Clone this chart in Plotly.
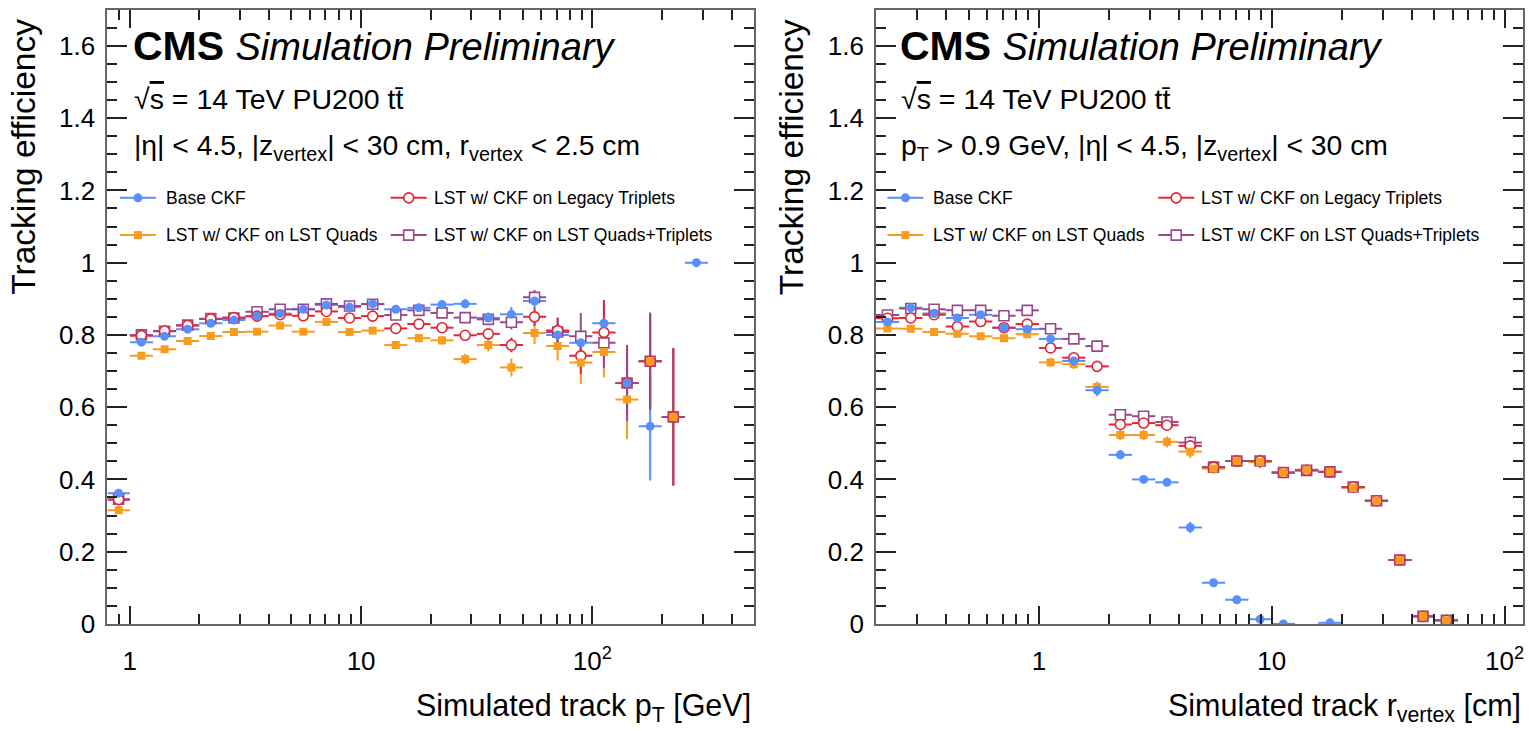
import math
import plotly.graph_objects as go

W, H = 1529, 731

# ---------------- data ----------------
# left panel: efficiency vs simulated track pT [GeV]
pt_edges = [0.8, 1.0, 1.259, 1.585, 1.995, 2.512, 3.162, 3.981, 5.012, 6.310, 7.943,
            10.0, 12.59, 15.85, 19.95, 25.12, 31.62, 39.81, 50.12, 63.10, 79.43,
            100.0, 125.9, 158.5, 199.5, 251.2, 316.2]
pt_base = [0.362, 0.780, 0.796, 0.816, 0.832, 0.841, 0.852, 0.859, 0.871, 0.883, 0.877,
           0.886, 0.871, 0.875, 0.884, 0.886, 0.847, 0.857, 0.894, 0.800, 0.778,
           0.832, 0.667, 0.547, None, 1.0]
pt_base_err = [0.010, 0.005, 0.005, 0.005, 0.005, 0.005, 0.005, 0.006, 0.006, 0.007, 0.008,
               0.008, 0.009, 0.010, 0.011, 0.012, 0.015, 0.020, 0.020, 0.030, 0.035,
               0.060, 0.080, 0.150, 0, 0]
pt_legacy = [0.344, 0.798, 0.811, 0.826, 0.844, 0.848, 0.852, 0.856, 0.853, 0.865, 0.847,
             0.852, 0.818, 0.830, 0.820, 0.799, 0.803, 0.772, 0.850, 0.812, 0.742,
             0.807, 0.667, 0.727, 0.573, None]
pt_legacy_err = [0.010, 0.005, 0.005, 0.005, 0.005, 0.005, 0.006, 0.006, 0.006, 0.007, 0.008,
                 0.008, 0.009, 0.010, 0.011, 0.013, 0.015, 0.020, 0.025, 0.035, 0.050,
                 0.090, 0.100, 0.130, 0.190, 0]
pt_quads = [0.315, 0.742, 0.760, 0.783, 0.797, 0.808, 0.809, 0.826, 0.809, 0.836, 0.808,
            0.812, 0.772, 0.791, 0.785, 0.733, 0.772, 0.710, 0.805, 0.769, 0.724,
            0.753, 0.621, 0.727, 0.573, None]
pt_quads_err = [0.010, 0.006, 0.006, 0.006, 0.006, 0.006, 0.006, 0.007, 0.007, 0.008, 0.009,
                0.009, 0.010, 0.011, 0.012, 0.015, 0.018, 0.025, 0.030, 0.040, 0.060,
                0.070, 0.110, 0.130, 0.190, 0]
pt_qt = [0.345, 0.800, 0.810, 0.827, 0.845, 0.847, 0.864, 0.871, 0.871, 0.886, 0.880,
         0.885, 0.855, 0.868, 0.861, 0.848, 0.843, 0.835, 0.904, 0.808, 0.796,
         0.778, 0.667, 0.727, 0.573, None]
pt_qt_err = [0.010, 0.005, 0.005, 0.005, 0.005, 0.005, 0.006, 0.006, 0.006, 0.007, 0.008,
             0.008, 0.009, 0.010, 0.011, 0.012, 0.015, 0.020, 0.020, 0.040, 0.065,
             0.070, 0.105, 0.135, 0.190, 0]

# right panel: efficiency vs simulated track r_vertex [cm]
rv_edges = [0.1995, 0.2512, 0.3162, 0.3981, 0.5012, 0.6310, 0.7943, 1.0, 1.259, 1.585,
            1.995, 2.512, 3.162, 3.981, 5.012, 6.310, 7.943, 10.0, 12.59, 15.85,
            19.95, 25.12, 31.62, 39.81, 50.12, 63.10]
rv_base = [0.836, 0.875, 0.859, 0.847, 0.856, 0.820, 0.816, 0.789, 0.728, 0.647,
           0.468, 0.400, 0.392, 0.267, 0.114, 0.067, 0.013, 0.000, None, 0.003,
           None, None, None, None, None]
rv_base_err = [0.008, 0.008, 0.008, 0.008, 0.008, 0.009, 0.010, 0.012, 0.014, 0.016,
               0.012, 0.010, 0.010, 0.015, 0.010, 0.008, 0.005, 0.003, 0, 0.003,
               0, 0, 0, 0, 0]
rv_legacy = [0.846, 0.847, 0.856, 0.823, 0.837, 0.820, 0.830, 0.764, 0.737, 0.713,
             0.552, 0.556, 0.550, 0.493, 0.434, 0.451, 0.451, 0.419, 0.425, 0.421,
             0.379, 0.341, 0.177, 0.021, 0.010]
rv_legacy_err = [0.008, 0.008, 0.008, 0.009, 0.009, 0.010, 0.011, 0.012, 0.013, 0.015,
                 0.014, 0.014, 0.015, 0.018, 0.015, 0.015, 0.017, 0.012, 0.015, 0.014,
                 0.010, 0.012, 0.010, 0.005, 0.004]
rv_quads = [0.818, 0.817, 0.808, 0.803, 0.796, 0.791, 0.802, 0.724, 0.719, 0.656,
            0.523, 0.523, 0.504, 0.477, 0.430, 0.451, 0.448, 0.419, 0.427, 0.421,
            0.376, 0.341, 0.177, 0.021, 0.010]
rv_quads_err = [0.008, 0.008, 0.008, 0.009, 0.009, 0.010, 0.011, 0.012, 0.013, 0.015,
                0.014, 0.014, 0.015, 0.018, 0.015, 0.015, 0.017, 0.012, 0.015, 0.014,
                0.010, 0.012, 0.010, 0.005, 0.004]
rv_qt = [0.855, 0.873, 0.871, 0.868, 0.868, 0.853, 0.868, 0.817, 0.789, 0.769,
         0.579, 0.575, 0.559, 0.502, 0.434, 0.451, 0.451, 0.419, 0.425, 0.421,
         0.379, 0.341, 0.177, 0.021, 0.010]
rv_qt_err = [0.008, 0.008, 0.008, 0.009, 0.009, 0.010, 0.011, 0.012, 0.013, 0.015,
             0.014, 0.014, 0.015, 0.018, 0.015, 0.015, 0.017, 0.012, 0.015, 0.014,
             0.010, 0.012, 0.010, 0.005, 0.004]

series_names = ["Base CKF", "LST w/ CKF on Legacy Triplets",
                "LST w/ CKF on LST Quads", "LST w/ CKF on LST Quads+Triplets"]
series_colors = ["#5790fc", "#e42536", "#f89c20", "#964a8b"]

y_tickvals = [0, 0.2, 0.4, 0.6, 0.8, 1, 1.2, 1.4, 1.6]
y_ticktext = ["0", "0.2", "0.4", "0.6", "0.8", "1", "1.2", "1.4", "1.6"]
x_tickvals = [1, 10, 100]
x_ticktext = ["1", "10", "10<sup>2</sup>"]

# ---------------- style ----------------
FONT = "Liberation Sans, Arial, Helvetica, sans-serif"
marker_style = {
    0: dict(symbol="circle", size=9, color=series_colors[0],
            line=dict(width=0, color=series_colors[0])),
    1: dict(symbol="circle", size=10, color="white",
            line=dict(width=1.6, color=series_colors[1])),
    2: dict(symbol="square", size=8, color=series_colors[2],
            line=dict(width=0, color=series_colors[2])),
    3: dict(symbol="square", size=10, color="white",
            line=dict(width=1.6, color=series_colors[3])),
}
err_order = [0, 2, 1, 3]
marker_order = [3, 1, 2, 0]

fig = go.Figure()


def bins(edges):
    lo = edges[:-1]
    hi = edges[1:]
    c = [math.sqrt(a * b) for a, b in zip(lo, hi)]
    return c, [b - x for b, x in zip(hi, c)], [x - a for a, x in zip(lo, c)]


def add_panel(edges, vals, errs, xa, ya):
    c, ep, em = bins(edges)
    # error bars first (under all markers)
    for i in err_order:
        fig.add_trace(go.Scatter(
            x=c, y=vals[i], mode="markers", xaxis=xa, yaxis=ya,
            marker=dict(size=1, opacity=0),
            error_x=dict(type="data", symmetric=False, array=ep, arrayminus=em,
                         color=series_colors[i], thickness=2, width=0),
            error_y=dict(type="data", array=errs[i], color=series_colors[i],
                         thickness=2, width=0),
            hoverinfo="skip", showlegend=False))
    for i in marker_order:
        fig.add_trace(go.Scatter(
            x=c, y=vals[i], mode="markers", xaxis=xa, yaxis=ya,
            marker=marker_style[i], name=series_names[i], showlegend=False))


add_panel(pt_edges, [pt_base, pt_legacy, pt_quads, pt_qt],
          [pt_base_err, pt_legacy_err, pt_quads_err, pt_qt_err], "x", "y")
add_panel(rv_edges, [rv_base, rv_legacy, rv_quads, rv_qt],
          [rv_base_err, rv_legacy_err, rv_quads_err, rv_qt_err], "x2", "y2")

# ---------------- axes ----------------
def minor_log_vals(lo, hi):
    out = []
    d = 10.0 ** math.floor(math.log10(lo))
    while d < hi:
        for m in range(1, 10):
            v = m * d
            if lo <= v <= hi:
                out.append(v)
        d *= 10
    return out


frame = dict(showline=True, linecolor="#666666", linewidth=2, mirror="ticks",
             ticks="inside", tickcolor="#222222", tickwidth=1.5,
             showgrid=False, zeroline=False,
             tickfont=dict(family=FONT, size=26, color="black"))

ydom = [(H - 637) / H, (H - 10) / H]
xdom1 = [107.5 / W, 754.5 / W]
xdom2 = [876.7 / W, 1524.0 / W]
xr1 = [math.log10(0.8), math.log10(500)]
xr2 = [math.log10(0.2), math.log10(120)]

for name, dom, xr, anchor in (("xaxis", xdom1, xr1, "y"), ("xaxis2", xdom2, xr2, "y2")):
    fig.layout[name] = dict(
        type="log", range=xr, domain=dom, anchor=anchor,
        tickmode="array", tickvals=x_tickvals, ticktext=x_ticktext, ticklen=18,
        ticklabelstandoff=13,
        minor=dict(tickmode="array", tickvals=minor_log_vals(10 ** xr[0], 10 ** xr[1]),
                   ticks="inside", ticklen=10, tickwidth=1.5, tickcolor="#222222",
                   showgrid=False),
        **frame)

for name, anchor in (("yaxis", "x"), ("yaxis2", "x2")):
    fig.layout[name] = dict(
        range=[0, 1.7], domain=ydom, anchor=anchor,
        tickmode="array", tickvals=y_tickvals, ticktext=y_ticktext, ticklen=20,
        ticklabelstandoff=5,
        minor=dict(dtick=0.05, tick0=0, ticks="inside", ticklen=10, tickwidth=1.5,
                   tickcolor="#222222", showgrid=False),
        **frame)

# pixel overlay axes for legend glyphs
fig.layout["xaxis3"] = dict(domain=[0, 1], range=[0, W], anchor="y3", visible=False,
                            fixedrange=True)
fig.layout["yaxis3"] = dict(domain=[0, 1], range=[H, 0], anchor="x3", visible=False,
                            fixedrange=True)

# ---------------- text ----------------
def px(x):
    return x / W


def py(y):
    return 1 - y / H


ann = []


def text(x, y, s, size, xanchor="left", yanchor="middle", angle=0):
    ann.append(dict(x=px(x), y=py(y), xref="paper", yref="paper", text=s,
                    showarrow=False, xanchor=xanchor, yanchor=yanchor,
                    textangle=angle, font=dict(family=FONT, size=size, color="black")))


panels = [
    dict(dx=0, sel="|η| < 4.5, |z<sub>vertex</sub>| < 30 cm, r<sub>vertex</sub> < 2.5 cm",
         xtitle="Simulated track p<sub>T</sub> [GeV]", xright=753, ytx=24),
    dict(dx=768, sel="p<sub>T</sub> > 0.9 GeV, |η| < 4.5, |z<sub>vertex</sub>| < 30 cm",
         xtitle="Simulated track r<sub>vertex</sub> [cm]", xright=1524, ytx=792),
]

for p in panels:
    dx = p["dx"]
    text(131 + dx, 47, "<b>CMS</b> <i><span style='font-size:38px'>Simulation Preliminary</span></i>", 41)
    text(132 + dx, 101, "√<span style='text-decoration:overline'>s</span> = 14 TeV PU200 tt\u0304", 28.5)
    text(132 + dx, 150, p["sel"], 28.3)
    text(p["xright"], 722, p["xtitle"], 30.5, xanchor="right")
    text(p["ytx"], 17, "Tracking efficiency", 33.5, xanchor="center", yanchor="top", angle=-90)

    # legend: 2 columns x 2 rows
    cols = [(120 + dx, 156 + dx, 164 + dx), (391 + dx, 427 + dx, 432 + dx)]
    rows = [202, 240]
    for k in range(4):
        r, cidx = divmod(k, 2)
        x0, x1, tx = cols[cidx]
        yy = rows[r]
        fig.add_trace(go.Scatter(
            x=[x0, x1], y=[yy, yy], xaxis="x3", yaxis="y3", mode="lines",
            line=dict(color=series_colors[k], width=2), hoverinfo="skip", showlegend=False))
        ms = dict(marker_style[k])
        fig.add_trace(go.Scatter(
            x=[(x0 + x1) / 2], y=[yy], xaxis="x3", yaxis="y3", mode="markers",
            marker=ms, hoverinfo="skip", showlegend=False))
        text(tx, yy, series_names[k], 17.5)

fig.update_layout(
    width=W, height=H, margin=dict(l=0, r=0, t=0, b=0),
    paper_bgcolor="white", plot_bgcolor="rgba(0,0,0,0)",
    showlegend=False, annotations=ann,
    font=dict(family=FONT, color="black"),
)

fig.write_html("out.html", include_plotlyjs=True, full_html=True,
               config={"displayModeBar": False},
               post_script="document.body.style.margin='0';")
